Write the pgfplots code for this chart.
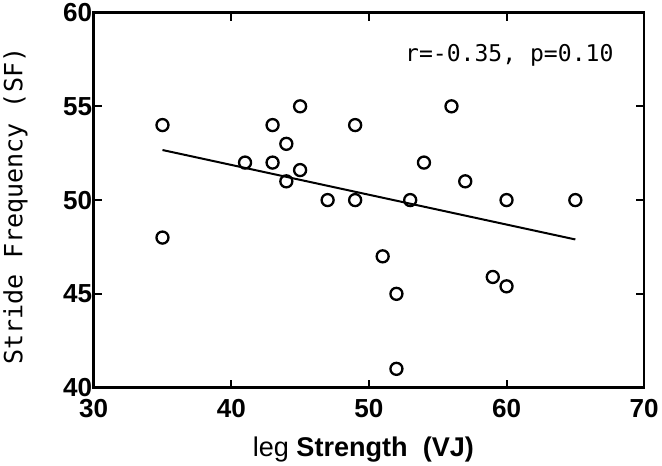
\documentclass[border=0pt]{standalone}
\usepackage{fontspec}
\setmainfont{Liberation Sans}
\newfontfamily\monofont{DejaVu Sans Mono}
\usepackage{pgfplots}
\pgfplotsset{compat=1.18}
\begin{document}
\begin{tikzpicture}
\begin{axis}[
    scale only axis,
    width=549pt, height=374pt,
    xmin=30, xmax=70, ymin=40, ymax=60,
    xtick={30,40,...,70}, ytick={40,45,...,60},
    tick align=inside, major tick length=8pt,
    axis line style={line width=2.5pt},
    every tick/.style={line width=2pt, black},
    /pgf/number format/assume math mode=true,
    tick label style={font=\fontsize{26}{26}\selectfont\bfseries},
    xticklabel style={yshift=-8pt},
    yticklabel style={xshift=2pt},
    xlabel={leg \textbf{Strength\ \ (VJ)}},
    xlabel style={font=\fontsize{27}{27}\selectfont, at={(rel axis cs:0.49,-0.165)}, anchor=center},
    ylabel={Stride Frequency (SF)},
    ylabel style={font=\monofont\fontsize{25}{25}\selectfont, at={(rel axis cs:-0.142,0.484)}, anchor=center, rotate=0},
    clip=false,
]
\addplot[only marks, mark=o, mark size=6pt, line width=2.3pt] coordinates {
(35,54) (43,54) (45,55) (49,54) (44,53) (41,52) (43,52) (45,51.6)
(44,51) (47,50) (49,50) (56,55) (54,52) (57,51) (53,50) (60,50)
(65,50) (51,47) (52,45) (59,45.9) (60,45.4) (52,41) (35,48)
};
\addplot[line width=2pt] coordinates {(35,52.67) (65,47.9)};
\node[font=\monofont\fontsize{23}{23}\selectfont] at (axis cs:60.2,57.7) {r=-0.35, p=0.10};
\end{axis}
\end{tikzpicture}
\end{document}
